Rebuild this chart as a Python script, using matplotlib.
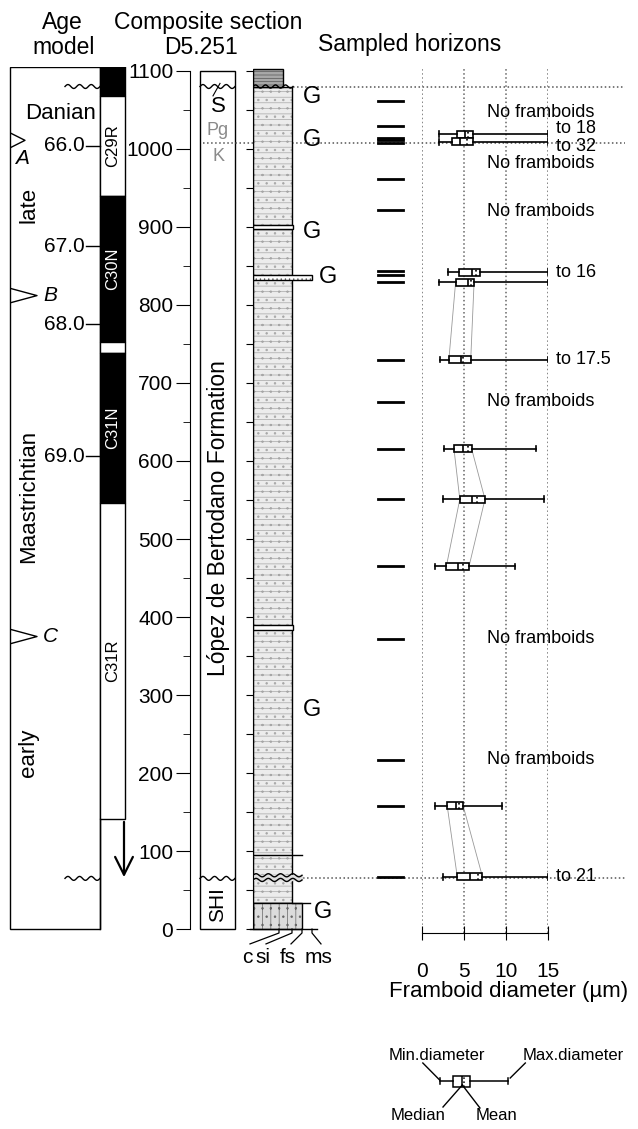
import numpy as np
import matplotlib.pyplot as plt
from matplotlib.patches import Rectangle

plt.rcParams['font.family'] = ['Liberation Sans', 'DejaVu Sans']
plt.rcParams['hatch.linewidth'] = 0.5

W, H = 638, 1129
Y_TOP, Y_BOT = 67, 933          # pixel rows of H_MAX and H_MIN
H_MIN, H_MAX = -5, 1105         # metres

# ---- age model ----
age_labels = ['66.0', '67.0', '68.0', '69.0']
age_heights = [1004, 875, 775, 606]
tie_names = ['A', 'B', 'C']
tie_heights = [1011, 812, 375]
chron_names = ['', 'C29R', 'C30N', '', 'C31N', 'C31R']
chron_top = [1106, 1068, 940, 752, 738, 546]
chron_base = [1068, 940, 752, 738, 546, 141]
chron_normal = [True, False, True, False, True, False]
stage_names = ['Danian', 'late', 'Maastrichtian', 'early']
stage_heights = [1046, 928, 555, 226]

# ---- lithology ----
grain_names = ['c', 'si', 'fs', 'ms']
grain_x = [26, 39, 49, 59]
g_heights = [1066, 1011, 894, 836, 281, 22]

# ---- samples ----
sample_heights = [1062, 1029, 1014, 1011, 1008, 961, 922, 843, 839, 830,
                  730, 676, 616, 551, 465, 372, 217, 158, 67]
barren_heights = [1047, 981, 920, 676, 372, 217]

box_h = [1019, 1009, 842, 829, 730, 616, 551, 465, 158, 67]
box_min = [2.0, 2.0, 3.1, 2.0, 2.1, 2.6, 2.5, 1.5, 1.5, 2.5]
box_q1 = [4.2, 3.6, 4.4, 4.0, 3.2, 3.8, 4.5, 2.9, 3.0, 4.2]
box_med = [5.1, 4.5, 5.9, 5.5, 4.7, 4.9, 5.9, 4.3, 4.1, 5.7]
box_mean = [5.5, 5.3, 6.4, 5.8, 4.9, 5.5, 6.5, 4.9, 4.4, 6.7]
box_q3 = [6.1, 6.1, 6.9, 6.2, 5.8, 5.9, 7.5, 5.6, 4.9, 7.2]
box_max = [18, 32, 16, 15, 17.5, 13.6, 14.5, 11.1, 9.5, 21]
label_shift = [7, -6, 0, 0, 0, 0, 0, 0, 0, 0]
links = [(3, 4), (5, 6), (6, 7), (8, 9)]

fig = plt.figure(figsize=(W / 100, H / 100), dpi=100)


def add_ax(x0, x1, y0=Y_TOP, y1=Y_BOT):
    a = fig.add_axes([x0 / W, 1 - y1 / H, (x1 - x0) / W, (y1 - y0) / H])
    a.set_ylim(H_MIN, H_MAX)
    a.patch.set_visible(False)
    return a


def wavy(a, x0, x1, h, amp=2.5, n=3, **kw):
    xs = np.linspace(x0, x1, 80)
    a.plot(xs, h + amp * np.sin(2 * np.pi * n * (xs - x0) / (x1 - x0)), color='k', lw=1, **kw)


def ftext(x, y, s, **kw):
    fig.text(x / W, 1 - y / H, s, ha='center', va='center', **kw)


ftext(62, 23, 'Age', fontsize=16.5)
ftext(64, 47, 'model', fontsize=16.5)
ftext(208, 23, 'Composite section', fontsize=16.5)
ftext(201, 47, 'D5.251', fontsize=16.5)
ftext(410, 45, 'Sampled horizons', fontsize=16.5)

# overlay in pixel x / metre y
ax = add_ax(0, W)
ax.set_xlim(0, W)
ax.axis('off')

# age model box
ax.add_patch(Rectangle((10, 0), 90, 1105, fill=False, lw=1))
for top, base, normal, name in zip(chron_top, chron_base, chron_normal, chron_names):
    ax.add_patch(Rectangle((100, base), 25, top - base, facecolor='k' if normal else 'w',
                           edgecolor='k', lw=1))
    if name:
        ax.text(112.5, (top + base) / 2, name, rotation=90, ha='center', va='center',
                fontsize=12, color='w' if normal else 'k')
ax.plot([100, 100], [0, 141], color='k', lw=1)
ax.annotate('', xy=(124, 63), xytext=(124, 141),
            arrowprops=dict(arrowstyle='->', lw=1.6, mutation_scale=32, color='k'))
for lab, h in zip(age_labels, age_heights):
    ax.plot([86, 100], [h, h], color='k', lw=1)
    ax.text(85, h, lab, ha='right', va='center', fontsize=15)
for name, h in zip(tie_names, tie_heights):
    tip = 25 if name == 'A' else 37
    ax.plot([11, tip, 11], [h + 9, h, h - 9], color='k', lw=1)
    if name == 'A':
        ax.text(22, h - 23, name, ha='center', va='center', fontsize=15, style='italic')
    else:
        ax.text(50, h, name, ha='center', va='center', fontsize=15, style='italic')
ax.text(61, stage_heights[0], stage_names[0], ha='center', va='center', fontsize=16)
for name, h in zip(stage_names[1:], stage_heights[1:]):
    ax.text(29, h, name, rotation=90, ha='center', va='center', fontsize=16)
wavy(ax, 65, 100, 1080)
wavy(ax, 65, 100, 65)

# formation column
ax.add_patch(Rectangle((200, 0), 35, 1100, fill=False, lw=1))
wavy(ax, 200, 235, 1080)
wavy(ax, 200, 235, 65)
ax.plot([213, 220], [1068, 1084], color='k', lw=0.8)
ax.text(218, 1054, 'S', ha='center', va='center', fontsize=16)
ax.text(218, 1024, 'Pg', ha='center', va='center', fontsize=13, color='#8a8a8a')
ax.text(218, 990, 'K', ha='center', va='center', fontsize=13, color='#8a8a8a')
ax.text(218, 527, 'López de Bertodano Formation', rotation=90, ha='center', va='center', fontsize=16.5)
ax.text(218, 31, 'SHI', rotation=90, ha='center', va='center', fontsize=15)

# long dotted correlation lines
ax.plot([293, 625], [1080, 1080], ls=':', color='#555', lw=1.1)
ax.plot([203, 625], [1008, 1008], ls=':', color='#555', lw=1.1)
ax.plot([303, 625], [66, 66], ls=':', color='#555', lw=1.1)

# sampled horizons
for h in sample_heights:
    ax.plot([378, 403], [h, h], color='k', lw=2)

# height axis
axh = add_ax(190, 191)
for s in ['top', 'right', 'bottom']:
    axh.spines[s].set_visible(False)
axh.spines['left'].set_bounds(0, 1100)
axh.set_xticks([])
axh.set_yticks(np.arange(0, 1101, 100))
axh.set_yticks(np.arange(50, 1100, 100), minor=True)
axh.tick_params(which='major', length=10, labelsize=15, pad=2)
axh.tick_params(which='minor', length=5)

# lithology column
axl = add_ax(253, 317)
axl.set_xlim(0, 64)
for s in ['top', 'right', 'bottom']:
    axl.spines[s].set_visible(False)
axl.spines['left'].set_bounds(0, 1100)
axl.set_xticks([])
axl.set_yticks(np.arange(0, 1101, 50))
axl.tick_params(length=5, labelleft=False)

axl.add_patch(Rectangle((0, 33), 39, 1047, facecolor='#ececec', hatch='---..', edgecolor='#a6a6a6', lw=0))
axl.add_patch(Rectangle((0, 33), 39, 1047, fill=False, lw=1))
axl.add_patch(Rectangle((0, 1080), 30, 22, facecolor='#a8a8a8', hatch='-----', edgecolor='#555', lw=0))
axl.add_patch(Rectangle((0, 1080), 30, 22, fill=False, lw=1))
axl.add_patch(Rectangle((0, 0), 49, 33, facecolor='#dcdcdc', hatch='||..', edgecolor='#666', lw=0))
axl.add_patch(Rectangle((0, 0), 49, 33, fill=False, lw=1))
axl.add_patch(Rectangle((0, 832), 59, 7, facecolor='w', hatch='....', edgecolor='#555', lw=0))
axl.add_patch(Rectangle((0, 832), 59, 7, fill=False, lw=1))
for lo, hi in [(897, 902), (384, 390)]:
    axl.add_patch(Rectangle((0, lo), 40, hi - lo, facecolor='w', edgecolor='k', lw=1))
axl.plot([0, 49], [95, 95], color='k', lw=1)
axl.fill_between([0, 49], 63, 69, color='#e0e0e0')
wavy(axl, 0, 49, 63, amp=2, n=4)
wavy(axl, 0, 49, 69, amp=2, n=4)
axl.plot([39, 57], [33, 33], color='k', lw=1)
wavy(axl, 0, 40, 1080, amp=2, n=4)
axl.plot([-3, 64], [0, 0], color='k', lw=1, clip_on=False)
label_x = [-6, 10, 35, 65]
for name, gx, lx in zip(grain_names, grain_x, label_x):
    axl.plot([gx, gx, lx + 3], [0, -5, -19], color='k', lw=0.9, clip_on=False)
    axl.text(lx, -36, name, ha='center', va='center', fontsize=15, clip_on=False)
g_x = [59, 59, 59, 75, 59, 70]
for gx, h in zip(g_x, g_heights):
    axl.text(gx, h, 'G', ha='center', va='center', fontsize=17)

# framboid diameter panel
axf = add_ax(422, 548)
axf.set_xlim(0, 15)
for s in ['top', 'right', 'left']:
    axf.spines[s].set_visible(False)
axf.spines['bottom'].set_bounds(0, 15)
axf.set_yticks([])
axf.set_xticks([0, 5, 10, 15])
axf.tick_params(axis='x', direction='inout', length=10, labelsize=15, pad=16)
axf.grid(axis='x', ls=':', color='#666', lw=1.1)
axf.set_axisbelow(True)
axf.set_xlabel('Framboid diameter (µm)', fontsize=16, labelpad=2)
axf.xaxis.set_label_coords(87 / 126, -0.056)

for a, b in links:
    for q in (box_q1, box_q3):
        axf.plot([q[a], q[b]], [box_h[a], box_h[b]], color='#999', lw=0.6, zorder=1)

stats = []
for i in range(len(box_h)):
    stats.append(dict(whislo=box_min[i], q1=box_q1[i], med=box_med[i], mean=box_mean[i],
                      q3=box_q3[i], whishi=min(box_max[i], 15), fliers=[]))
line_kw = dict(color='k', lw=1.2)
axf.bxp(stats, positions=box_h, widths=9, orientation='horizontal', manage_ticks=False,
        showmeans=True, meanline=True, showfliers=False, patch_artist=True,
        boxprops=dict(facecolor='w', edgecolor='k', lw=1.2), medianprops=line_kw,
        meanprops=dict(color='k', lw=1.2, ls=':'), whiskerprops=line_kw,
        capprops=line_kw, capwidths=7)
for i, h in enumerate(box_h):
    if box_max[i] > 15:
        axf.text(16, h + label_shift[i], 'to %g' % box_max[i], ha='left', va='center',
                 fontsize=13, clip_on=False)
for h in barren_heights:
    axf.text(7.7, h, 'No framboids', ha='left', va='center', fontsize=13, clip_on=False)

# legend
axg = fig.add_axes([422 / W, 1 - 1125 / H, 126 / W, 85 / H])
axg.set_xlim(0, 15)
axg.set_ylim(0, 85)
axg.axis('off')
axg.bxp([dict(whislo=2.1, q1=3.7, med=4.8, mean=5.0, q3=5.7, whishi=10.2, fliers=[])],
        positions=[44], widths=11, orientation='horizontal', manage_ticks=False,
        showmeans=True, meanline=True, showfliers=False, patch_artist=True,
        boxprops=dict(facecolor='w', edgecolor='k', lw=1.1), medianprops=dict(color='k', lw=1.1),
        meanprops=dict(color='k', lw=1.1, ls=':'), whiskerprops=dict(color='k', lw=1.1),
        capprops=dict(color='k', lw=1.1), capwidths=6)
axg.text(1.8, 70, 'Min.diameter', ha='center', va='center', fontsize=12)
axg.text(18.0, 70, 'Max.diameter', ha='center', va='center', fontsize=12, clip_on=False)
axg.text(-0.5, 10, 'Median', ha='center', va='center', fontsize=12, clip_on=False)
axg.text(8.9, 10, 'Mean', ha='center', va='center', fontsize=12)
for xs, ys in [([0.1, 2.1], [62, 45]), ([12.3, 10.5], [62, 47]),
               ([4.8, 2.5], [40, 18]), ([4.8, 6.9], [40, 17])]:
    axg.plot(xs, ys, color='k', lw=1, clip_on=False)

fig.savefig('out.png', dpi=100, facecolor='w')
